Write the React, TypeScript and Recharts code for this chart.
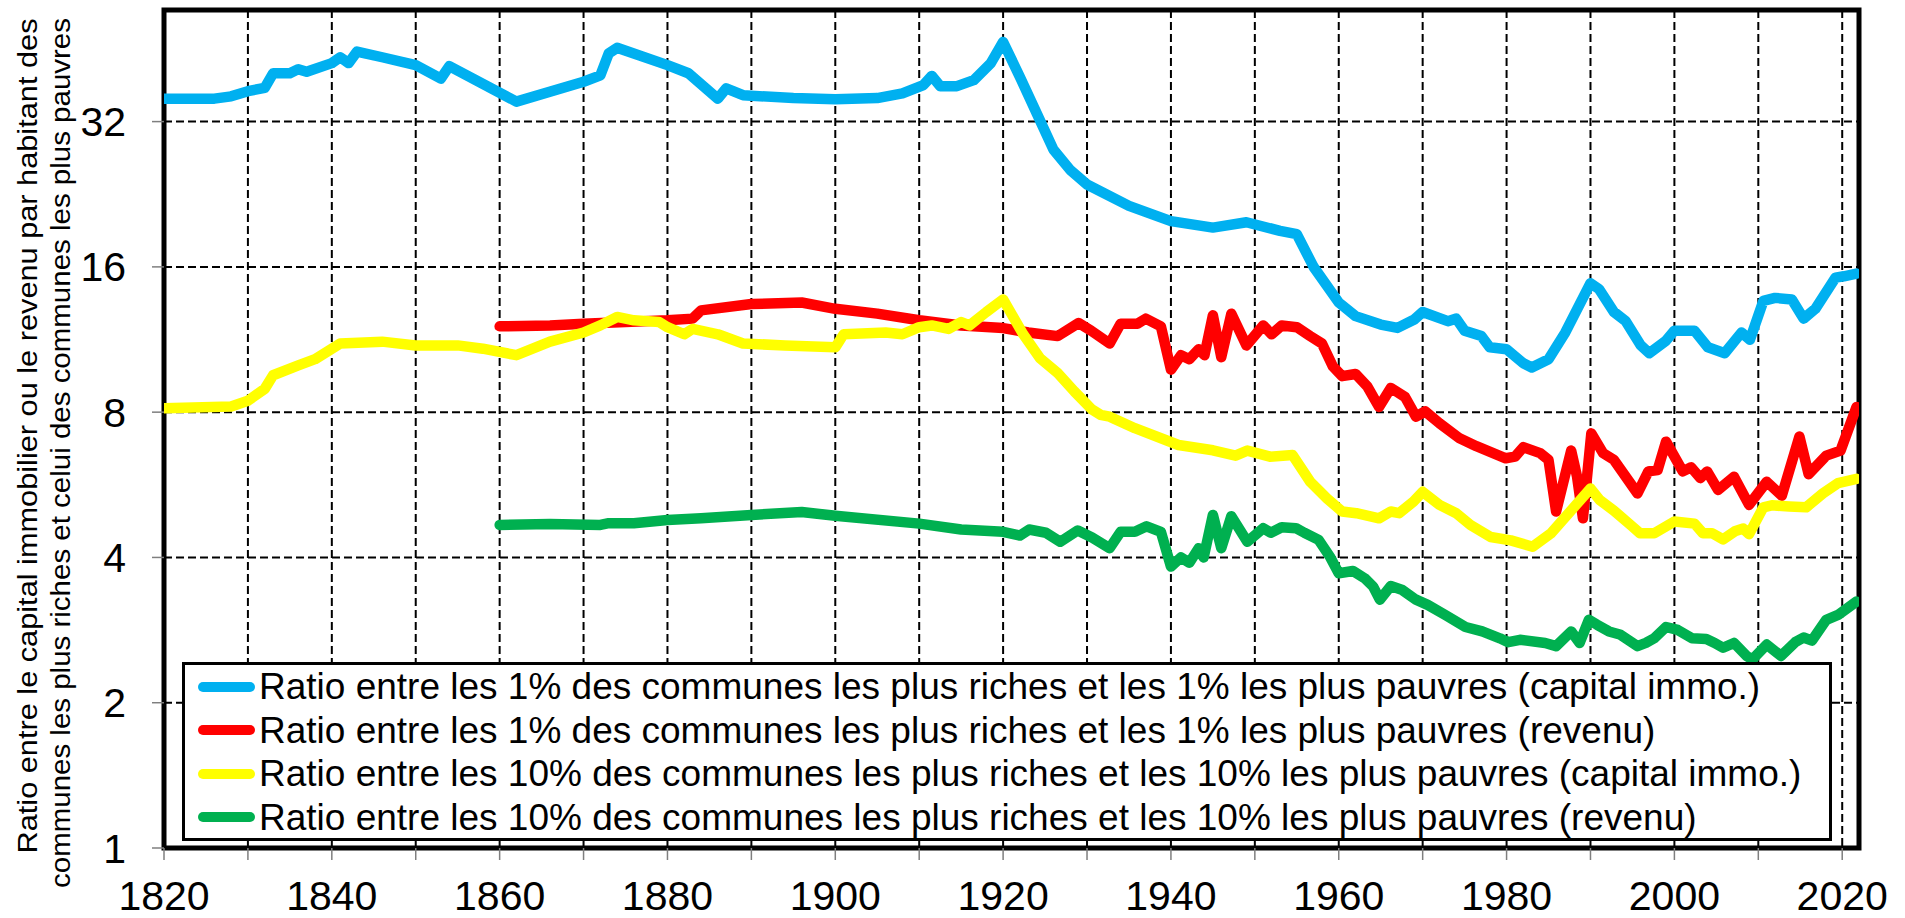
import { LineChart, Line, XAxis, YAxis, CartesianGrid, ReferenceArea } from 'recharts';

// years / values, one pair of arrays per series
const blueYears = [1820, 1826, 1828, 1830, 1832, 1833, 1835, 1836, 1837, 1840, 1841, 1842, 1843, 1846, 1850, 1853, 1854, 1862, 1870, 1872, 1873, 1874, 1880, 1882.5, 1886, 1887, 1889, 1895, 1900, 1905, 1908, 1910.5, 1911.5, 1912.5, 1914.5, 1916.5, 1918.5, 1920, 1922, 1924, 1926, 1928, 1930, 1935, 1940, 1945, 1949, 1953, 1955, 1957, 1960, 1962, 1965, 1967, 1969, 1970, 1973, 1974, 1975, 1977, 1978, 1980, 1982, 1983, 1985, 1987, 1990, 1991, 1992.8, 1994.2, 1996, 1997, 1999, 2000, 2002.4, 2004, 2006, 2008, 2009, 2010.6, 2012, 2014, 2015.4, 2016.8, 2019.2, 2020.2, 2021.7];
const blueValues = [35.7, 35.7, 36.1, 37.0, 37.6, 40.3, 40.3, 41.1, 40.6, 42.3, 43.5, 42.3, 44.7, 43.5, 41.9, 39.3, 41.7, 35.2, 38.7, 39.9, 44.3, 45.5, 41.9, 40.3, 35.7, 37.5, 36.3, 35.8, 35.6, 35.8, 36.6, 38.1, 39.8, 37.9, 37.9, 39.0, 42.2, 46.8, 39.6, 33.3, 28.0, 25.4, 23.7, 21.4, 19.9, 19.3, 19.8, 19.0, 18.7, 16.0, 13.5, 12.65, 12.15, 11.96, 12.45, 12.9, 12.35, 12.5, 11.8, 11.5, 10.9, 10.8, 10.1, 9.9, 10.3, 11.7, 14.8, 14.4, 12.9, 12.35, 11.0, 10.6, 11.25, 11.8, 11.8, 10.9, 10.6, 11.7, 11.3, 13.6, 13.8, 13.7, 12.5, 13.1, 15.2, 15.3, 15.5];

const redYears = [1860, 1866, 1870, 1880, 1883, 1884, 1890, 1896, 1900, 1905, 1910, 1915, 1920, 1923, 1926.5, 1929, 1930.5, 1932.7, 1934, 1936, 1937, 1938.8, 1940, 1941.2, 1942.2, 1943.3, 1944, 1945, 1946, 1947.2, 1949, 1951, 1952, 1953.2, 1955, 1956.6, 1958, 1959.3, 1960.4, 1962, 1963.4, 1964.8, 1966.2, 1967.9, 1969.2, 1970.3, 1972, 1974.4, 1976.4, 1979.9, 1981, 1982, 1984, 1985, 1985.9, 1987.7, 1988.4, 1989.1, 1990.1, 1991.5, 1992.8, 1995.6, 1996.9, 1998, 1999, 2001, 2002, 2003.1, 2003.9, 2005.2, 2007.1, 2008.9, 2011, 2012.8, 2014.9, 2016, 2018.1, 2019.8, 2021.7];
const redValues = [12.05, 12.1, 12.2, 12.4, 12.5, 13.0, 13.4, 13.5, 13.1, 12.8, 12.4, 12.1, 11.95, 11.7, 11.5, 12.24, 11.8, 11.1, 12.2, 12.2, 12.5, 12.05, 9.8, 10.5, 10.3, 10.8, 10.5, 12.7, 10.4, 12.8, 11.0, 12.1, 11.6, 12.1, 12.0, 11.5, 11.1, 9.95, 9.5, 9.6, 9.05, 8.2, 8.98, 8.6, 7.83, 8.03, 7.59, 7.06, 6.8, 6.42, 6.47, 6.77, 6.58, 6.37, 4.98, 6.66, 5.88, 4.82, 7.23, 6.58, 6.37, 5.43, 6.03, 6.07, 6.95, 6.03, 6.15, 5.84, 6.03, 5.52, 5.88, 5.14, 5.74, 5.37, 7.12, 5.95, 6.5, 6.66, 8.2];

const yellowYears = [1820, 1828, 1830, 1832, 1833, 1836, 1838, 1840, 1841, 1846, 1850, 1855, 1858, 1862, 1866, 1870, 1872, 1874, 1876, 1879, 1880, 1882, 1883, 1886, 1889, 1894, 1900, 1901, 1906, 1908, 1910, 1911.5, 1913.5, 1915, 1916, 1918, 1920, 1922.4, 1924.4, 1926.5, 1928.5, 1930.6, 1931.6, 1932.7, 1935.7, 1940.9, 1945, 1947.7, 1949.1, 1951.8, 1954.5, 1956.6, 1958.6, 1960.4, 1962.1, 1964.8, 1966.2, 1967.2, 1968.9, 1970, 1972, 1974, 1975.7, 1978.1, 1980.5, 1983.1, 1985.3, 1987.4, 1990, 1991.1, 1992.8, 1994.9, 1995.9, 1997.6, 2000, 2002.4, 2003.4, 2004.5, 2005.8, 2007.2, 2008.2, 2008.9, 2010.6, 2011.6, 2013.7, 2015.7, 2017.7, 2019.5, 2021.7];
const yellowValues = [8.15, 8.22, 8.45, 8.94, 9.54, 10.0, 10.3, 10.83, 11.1, 11.2, 11.0, 11.0, 10.83, 10.5, 11.2, 11.7, 12.1, 12.6, 12.4, 12.3, 12.0, 11.6, 11.9, 11.6, 11.1, 11.0, 10.9, 11.6, 11.7, 11.6, 12.0, 12.1, 11.9, 12.3, 12.1, 12.9, 13.7, 11.6, 10.35, 9.64, 8.83, 8.1, 7.9, 7.83, 7.41, 6.84, 6.67, 6.5, 6.66, 6.47, 6.52, 5.74, 5.3, 4.98, 4.94, 4.82, 4.98, 4.94, 5.22, 5.47, 5.14, 4.94, 4.67, 4.41, 4.34, 4.21, 4.49, 4.94, 5.56, 5.26, 5.0, 4.65, 4.49, 4.49, 4.75, 4.7, 4.49, 4.49, 4.36, 4.53, 4.59, 4.47, 5.08, 5.13, 5.1, 5.08, 5.43, 5.7, 5.82];

const greenYears = [1860, 1866, 1872, 1873, 1876, 1880, 1884, 1890, 1896, 1900, 1910, 1915, 1920, 1922, 1923.1, 1925.1, 1926.8, 1928.9, 1930.6, 1932.7, 1934, 1935.7, 1937.1, 1938.8, 1940, 1941.2, 1942.2, 1943.3, 1943.9, 1945, 1946, 1947.2, 1949.1, 1951, 1951.9, 1953.2, 1954.9, 1955.9, 1957.6, 1959, 1960, 1961.7, 1963.1, 1964.1, 1964.9, 1966.2, 1967.5, 1969.2, 1970.6, 1972.7, 1975.1, 1977.1, 1979.2, 1980.2, 1981.6, 1984.6, 1985.9, 1987.7, 1988.7, 1989.8, 1990.8, 1992.2, 1993.5, 1995.6, 1996.6, 1997.6, 1999, 2000.4, 2002.1, 2003.8, 2004.8, 2005.8, 2007.1, 2008.6, 2009.3, 2011, 2012.7, 2014.4, 2015.4, 2016.4, 2018.1, 2019.5, 2021.7];
const greenValues = [4.67, 4.69, 4.67, 4.71, 4.71, 4.78, 4.82, 4.9, 4.97, 4.88, 4.7, 4.57, 4.52, 4.44, 4.57, 4.5, 4.31, 4.55, 4.4, 4.18, 4.52, 4.52, 4.64, 4.52, 3.83, 4.0, 3.9, 4.18, 4.0, 4.9, 4.18, 4.87, 4.31, 4.6, 4.5, 4.62, 4.6, 4.5, 4.35, 4.0, 3.71, 3.75, 3.62, 3.48, 3.27, 3.49, 3.43, 3.27, 3.19, 3.04, 2.87, 2.81, 2.72, 2.67, 2.7, 2.66, 2.62, 2.81, 2.66, 2.97, 2.9, 2.81, 2.77, 2.62, 2.66, 2.72, 2.87, 2.83, 2.72, 2.71, 2.66, 2.6, 2.66, 2.5, 2.46, 2.64, 2.5, 2.67, 2.73, 2.69, 2.97, 3.04, 3.24];

const xTicks = [1820, 1830, 1840, 1850, 1860, 1870, 1880, 1890, 1900, 1910, 1920, 1930, 1940, 1950, 1960, 1970, 1980, 1990, 2000, 2010, 2020];
const yTicks = [1, 2, 4, 8, 16, 32];

const legendLabels = [
  'Ratio entre les 1% des communes les plus riches et les 1% les plus pauvres (capital immo.)',
  'Ratio entre les 1% des communes les plus riches et les 1% les plus pauvres (revenu)',
  'Ratio entre les 10% des communes les plus riches et les 10% les plus pauvres (capital immo.)',
  'Ratio entre les 10% des communes les plus riches et les 10% les plus pauvres (revenu)',
];
const colors = ['#00B0F0', '#FF0000', '#FFFF00', '#00B050'];

const toPoints = (xs: number[], ys: number[]) => xs.map((x, i) => ({ x, y: ys[i] }));

const series = [
  toPoints(blueYears, blueValues),
  toPoints(redYears, redValues),
  toPoints(yellowYears, yellowValues),
  toPoints(greenYears, greenValues),
];

const FONT = '"Liberation Sans", Arial, sans-serif';

// the source picture is stretched vertically, so the rotated title runs long
const YTitle = () => (
  <g style={{ fontFamily: FONT, fontSize: 27 }} fill="#000">
    <text
      x={37}
      y={436}
      transform="rotate(-90 37 436)"
      textAnchor="middle"
      textLength={835}
      lengthAdjust="spacingAndGlyphs"
    >
      Ratio entre le capital immobilier ou le revenu par habitant des
    </text>
    <text
      x={70}
      y={453}
      transform="rotate(-90 70 453)"
      textAnchor="middle"
      textLength={870}
      lengthAdjust="spacingAndGlyphs"
    >
      communes les plus riches et celui des communes les plus pauvres
    </text>
  </g>
);

// legend box sits inside the plot, over the lower part of the grid
const LegendBox = () => (
  <div
    style={{
      position: 'absolute',
      left: 182,
      top: 662,
      width: 1650,
      height: 179,
      border: '3px solid #000',
      background: '#fff',
      boxSizing: 'border-box',
      paddingLeft: 13,
      fontFamily: FONT,
      fontSize: 37,
      lineHeight: '43.5px',
    }}
  >
    {legendLabels.map((label, i) => (
      <div key={label} style={{ display: 'flex', alignItems: 'center', whiteSpace: 'nowrap', height: 43.5 }}>
        <span
          style={{
            display: 'inline-block',
            flex: 'none',
            width: 57,
            height: 10,
            borderRadius: 5,
            background: colors[i],
            marginRight: 4,
          }}
        />
        {label}
      </div>
    ))}
  </div>
);

export default function App() {
  return (
    <div style={{ position: 'absolute', left: 0, top: 0, width: 1905, height: 918, background: '#fff' }}>
      <LineChart width={1905} height={918} margin={{ top: 10, right: 46, bottom: 20, left: 84 }}>
        <CartesianGrid stroke="#000" strokeWidth={2} strokeDasharray="8 4" />
        <XAxis
          dataKey="x"
          type="number"
          domain={[1820, 2022]}
          ticks={xTicks}
          allowDataOverflow
          height={50}
          axisLine={false}
          tickLine={{ stroke: '#7f7f7f', strokeWidth: 1.5 }}
          tickSize={12}
          tickMargin={21}
          tickFormatter={(v: number) => (v % 20 === 0 ? String(v) : '')}
          tick={{ fill: '#000', fontSize: 41, fontFamily: FONT }}
        />
        <YAxis
          dataKey="y"
          scale="log"
          domain={[1, 54.5]}
          ticks={yTicks}
          allowDataOverflow
          width={80}
          axisLine={false}
          tickLine={{ stroke: '#7f7f7f', strokeWidth: 1.5 }}
          tickSize={12}
          tickMargin={26}
          tick={{ fill: '#000', fontSize: 41, fontFamily: FONT }}
          label={{ content: () => <YTitle /> }}
        />
        {series.map((pts, i) => (
          <Line
            key={legendLabels[i]}
            data={pts}
            dataKey="y"
            name={legendLabels[i]}
            type="linear"
            stroke={colors[i]}
            strokeWidth={10.5}
            strokeLinejoin="round"
            strokeLinecap="round"
            dot={false}
            activeDot={false}
            isAnimationActive={false}
          />
        ))}
        <ReferenceArea
          x1={1820}
          x2={2022}
          y1={1}
          y2={54.5}
          fill="none"
          stroke="#000"
          strokeWidth={5}
          ifOverflow="visible"
        />
      </LineChart>
      <LegendBox />
    </div>
  );
}
